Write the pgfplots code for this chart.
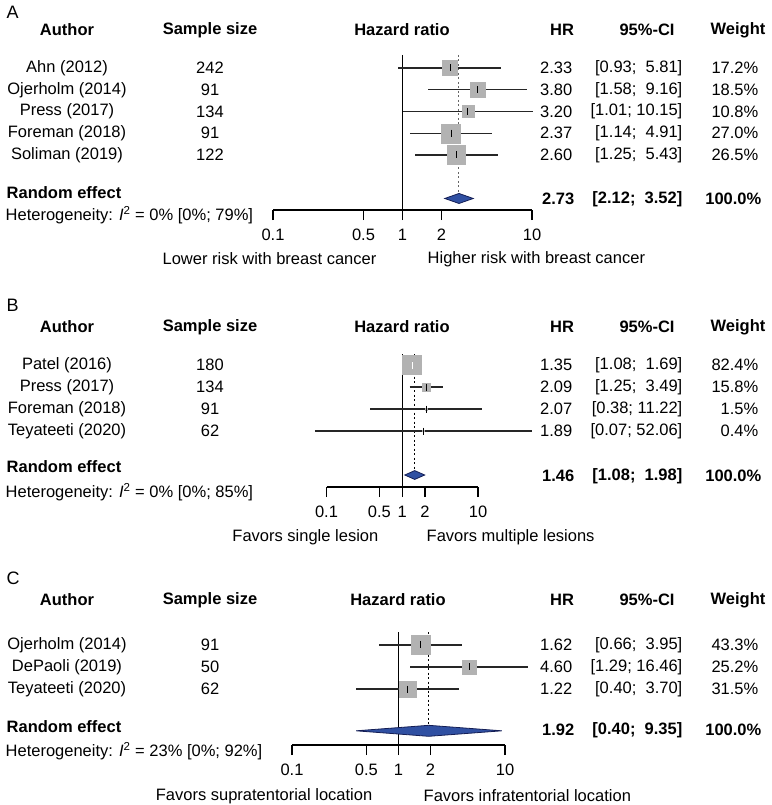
\documentclass[border=0pt]{standalone}
\usepackage{fontspec}
\setmainfont{Liberation Sans}
\usepackage{pgfplots}
\pgfplotsset{compat=1.18}

\definecolor{boxgray}{RGB}{178,178,178}
\definecolor{diamfill}{RGB}{48,80,162}
\definecolor{diamdraw}{RGB}{20,30,85}

% y, hr, lo, hi, weight, max weight
\newcommand{\study}[6]{%
  \addplot[black!85, line width=1.1pt] coordinates {(#3,#1) (#4,#1)};
  \addplot[boxgray, only marks, mark=square*, mark size={9.5*sqrt(#5/#6)}] coordinates {(#2,#1)};
  \addplot[black, only marks, mark=|, mark size=3.5pt, mark options={line width=1pt}] coordinates {(#2,#1)};
}

% y px, author, n, hr, ci, weight
\newcommand{\trow}[6]{%
  \node at (67pt,-#1pt) {#2};
  \node at (210pt,-#1pt) {#3};
  \node[anchor=east] at (578pt,-#1pt) {#4};
  \node[anchor=east] at (688pt,-#1pt) {#5};
  \node[anchor=east] at (764pt,-#1pt) {#6};
}
% y px, x of "Hazard ratio"
\newcommand{\hdr}[2]{%
  \node[font=\bfseries] at (67pt,-#1pt) {Author};
  \node[font=\bfseries] at (210pt,-#1pt) {Sample size};
  \node[font=\bfseries] at (#2pt,-#1pt) {Hazard ratio};
  \node[font=\bfseries] at (562pt,-#1pt) {HR};
  \node[font=\bfseries] at (647pt,-#1pt) {95\%-CI};
  \node[font=\bfseries] at (738pt,-#1pt) {Weight};
}
% text y, values y, hr, ci, heterogeneity y, heterogeneity text
\newcommand{\pooled}[6]{%
  \node[font=\bfseries, anchor=west] at (1pt,-#1pt) {Random effect};
  \node[font=\bfseries, anchor=east] at (580pt,-#2pt) {#3};
  \node[font=\bfseries, anchor=east] at (688pt,-#2pt) {#4};
  \node[font=\bfseries, anchor=east] at (767pt,-#2pt) {100.0\%};
  \node[anchor=west] at (0pt,-#5pt) {Heterogeneity: \textit{I}\textsuperscript{2} = #6};
}

\begin{document}
\fontsize{16.5}{20}\selectfont
\begin{tikzpicture}
\path[use as bounding box] (0pt,0pt) rectangle (771pt,-805pt);

% ---------------- A ----------------
\begin{axis}[scale only axis, anchor=south west, clip=false,
    xmode=log, xmin=0.1, xmax=10,
    axis x line=bottom, axis y line=none,
    axis line style={-, line width=1.2pt, black},
    xtick={0.1,0.5,1,2,10}, xticklabels={0.1,0.5,1,2,10},
    minor xtick={}, tick align=outside, major tick length=10pt,
    xtick style={line width=1.2pt, black},
    xticklabel style={yshift=-3pt},
    at={(273pt,-210pt)}, width=259pt, height=155.1pt,
    ymin=-7.53, ymax=-0.40]
  \addplot[black, line width=1.2pt] coordinates {(1,-0.40) (1,-7.53)};
  \addplot[black!60, line width=1pt, dash pattern=on 2pt off 2.5pt] coordinates {(2.73,-0.40) (2.73,-6.77)};
  \study{-1}{2.33}{0.93}{5.81}{17.2}{27.0}
  \study{-2}{3.80}{1.58}{9.16}{18.5}{27.0}
  \study{-3}{3.20}{1.01}{10.15}{10.8}{27.0}
  \study{-4}{2.37}{1.14}{4.91}{27.0}{27.0}
  \study{-5}{2.60}{1.25}{5.43}{26.5}{27.0}
  \addplot[fill=diamfill, draw=diamdraw, line width=0.8pt] coordinates {(2.12,-7) (2.73,-6.77) (3.52,-7) (2.73,-7.23)} -- cycle;
\end{axis}

\node[anchor=west, font=\fontsize{18}{20}\selectfont] at (1pt,-12pt) {A};
\hdr{30}{402}
\trow{68}{Ahn (2012)}{242}{2.33}{[0.93;~ 5.81]}{17.2\%}
\trow{89.75}{Ojerholm (2014)}{91}{3.80}{[1.58;~ 9.16]}{18.5\%}
\trow{111.5}{Press (2017)}{134}{3.20}{[1.01; 10.15]}{10.8\%}
\trow{133.25}{Foreman (2018)}{91}{2.37}{[1.14;~ 4.91]}{27.0\%}
\trow{155}{Soliman (2019)}{122}{2.60}{[1.25;~ 5.43]}{26.5\%}
\pooled{193}{199}{2.73}{[2.12;~ 3.52]}{215}{0\% [0\%; 79\%]}
\node[anchor=east] at (382pt,-259pt) {Lower risk with breast cancer};
\node[anchor=west] at (422pt,-259pt) {Higher risk with breast cancer};

% ---------------- B ----------------
\begin{axis}[scale only axis, anchor=south west, clip=false,
    xmode=log, xmin=0.1, xmax=10,
    axis x line=bottom, axis y line=none,
    axis line style={-, line width=1.2pt, black},
    xtick={0.1,0.5,1,2,10}, xticklabels={0.1,0.5,1,2,10},
    minor xtick={}, tick align=outside, major tick length=10pt,
    xtick style={line width=1.2pt, black},
    xticklabel style={yshift=-3pt},
    at={(326.5pt,-487pt)}, width=151.5pt, height=133pt,
    ymin=-6.545, ymax=-0.5]
  \addplot[black, line width=1.2pt] coordinates {(1,-0.5) (1,-6.545)};
  \addplot[black, line width=1.5pt, dash pattern=on 2pt off 2.5pt] coordinates {(1.46,-0.5) (1.46,-5.8)};
  \study{-1}{1.35}{1.08}{1.69}{82.4}{82.4}
  \addplot[white, line width=1.1pt] coordinates {(1.08,-1) (1.69,-1)};
  \addplot[white, only marks, mark=|, mark size=3.5pt, mark options={line width=1pt}] coordinates {(1.35,-1)};
  \study{-2}{2.09}{1.25}{3.49}{15.8}{82.4}
  \study{-3}{2.07}{0.38}{11.22}{1.5}{82.4}
  \study{-4}{1.89}{0.07}{52.06}{0.4}{82.4}
  \addplot[fill=diamfill, draw=diamdraw, line width=0.8pt] coordinates {(1.08,-6) (1.46,-5.8) (1.98,-6) (1.46,-6.2)} -- cycle;
\end{axis}

\node[anchor=west, font=\fontsize{18}{20}\selectfont] at (1pt,-305pt) {B};
\hdr{327}{402}
\trow{365}{Patel (2016)}{180}{1.35}{[1.08;~ 1.69]}{82.4\%}
\trow{387}{Press (2017)}{134}{2.09}{[1.25;~ 3.49]}{15.8\%}
\trow{409}{Foreman (2018)}{91}{2.07}{[0.38; 11.22]}{1.5\%}
\trow{431}{Teyateeti (2020)}{62}{1.89}{[0.07; 52.06]}{0.4\%}
\pooled{467}{476}{1.46}{[1.08;~ 1.98]}{492}{0\% [0\%; 85\%]}
\node[anchor=east] at (384pt,-537pt) {Favors single lesion};
\node[anchor=west] at (421pt,-537pt) {Favors multiple lesions};

% ---------------- C ----------------
\begin{axis}[scale only axis, anchor=south west, clip=false,
    xmode=log, xmin=0.1, xmax=10,
    axis x line=bottom, axis y line=none,
    axis line style={-, line width=1.2pt, black},
    xtick={0.1,0.5,1,2,10}, xticklabels={0.1,0.5,1,2,10},
    minor xtick={}, tick align=outside, major tick length=10pt,
    xtick style={line width=1.2pt, black},
    xticklabel style={yshift=-3pt},
    at={(292pt,-745pt)}, width=213pt, height=113pt,
    ymin=-5.545, ymax=-0.41]
  \addplot[black, line width=1.2pt] coordinates {(1,-0.41) (1,-5.545)};
  \addplot[black, line width=1.5pt, dash pattern=on 2pt off 2.5pt] coordinates {(1.92,-0.41) (1.92,-4.65)};
  \study{-1}{1.62}{0.66}{3.95}{43.3}{43.3}
  \study{-2}{4.60}{1.29}{16.46}{25.2}{43.3}
  \study{-3}{1.22}{0.40}{3.70}{31.5}{43.3}
  \addplot[fill=diamfill, draw=diamdraw, line width=0.8pt] coordinates {(0.40,-4.9) (1.92,-4.65) (9.35,-4.9) (1.92,-5.15)} -- cycle;
\end{axis}

\node[anchor=west, font=\fontsize{18}{20}\selectfont] at (1pt,-578pt) {C};
\hdr{600}{398}
\trow{645}{Ojerholm (2014)}{91}{1.62}{[0.66;~ 3.95]}{43.3\%}
\trow{667}{DePaoli (2019)}{50}{4.60}{[1.29; 16.46]}{25.2\%}
\trow{689}{Teyateeti (2020)}{62}{1.22}{[0.40;~ 3.70]}{31.5\%}
\pooled{727}{730}{1.92}{[0.40;~ 9.35]}{751}{23\% [0\%; 92\%]}
\node[anchor=east] at (378pt,-796pt) {Favors supratentorial location};
\node[anchor=west] at (418pt,-796pt) {Favors infratentorial location};
\end{tikzpicture}
\end{document}
